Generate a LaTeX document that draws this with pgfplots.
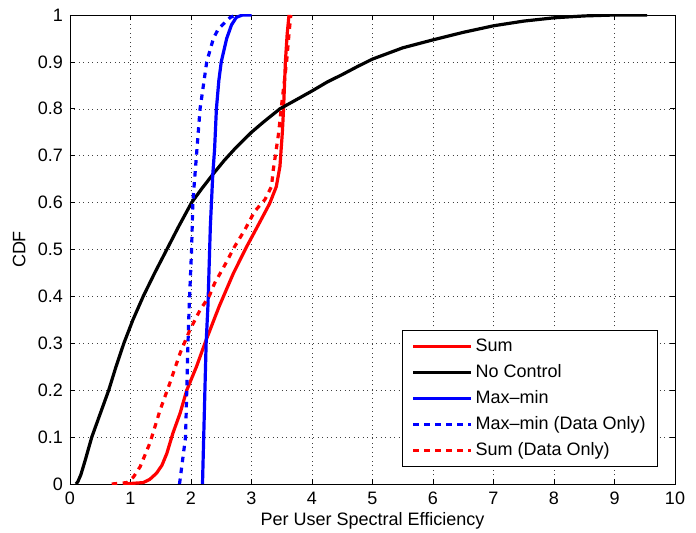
\documentclass[border=0pt]{standalone}
\usepackage{fontspec}
\setmainfont{Liberation Sans}
\usepackage{pgfplots}
\pgfplotsset{compat=1.18}

\begin{document}
\fontsize{18bp}{21bp}\selectfont
\begin{tikzpicture}
\useasboundingbox (-70bp,-49bp) rectangle (626bp,484bp);
\begin{axis}[
  at={(0,0)}, anchor=south west,
  scale only axis, width=605bp, height=469bp,
  xmin=0, xmax=10, ymin=0, ymax=1,
  xtick={0,1,2,3,4,5,6,7,8,9,10},
  ytick={0,0.1,0.2,0.3,0.4,0.5,0.6,0.7,0.8,0.9,1},
  yticklabels={0,0.1,0.2,0.3,0.4,0.5,0.6,0.7,0.8,0.9,1},
  /pgf/number format/assume math mode=true,
  tick align=inside, major tick length=5bp,
  tick style={black, line width=0.6bp},
  axis line style={black, line width=0.8bp},
  grid=major,
  major grid style={black!75, line width=0.5bp, dash pattern=on 1bp off 3.5bp},
  tick label style={font=\fontsize{18bp}{21bp}\selectfont},
  label style={font=\fontsize{18bp}{21bp}\selectfont},
  xticklabel style={yshift=-2bp},
  yticklabel style={xshift=-1bp},
  xlabel={Per User Spectral Efficiency},
  ylabel={CDF},
  xlabel style={yshift=5bp},
  ylabel style={yshift=0bp},
  legend cell align=left,
  legend style={at={(0.972,0.036)}, anchor=south east, draw=black,
    line width=0.8bp, fill=white, font=\fontsize{18bp}{21bp}\selectfont,
    row sep=0bp, column sep=0bp, inner xsep=9bp, inner ysep=3bp,
    nodes={inner xsep=3bp, inner ysep=4.5bp, text height=13bp, text depth=4bp}},
  legend image code/.code={\draw[#1] (0bp,0bp) -- (58bp,0bp);},
]
% Sum
\addplot[red, line width=3.2bp] coordinates {
(0.88,0) (1.21,0.003) (1.32,0.01) (1.43,0.023) (1.52,0.04) (1.60,0.065)
(1.70,0.108) (1.82,0.151) (1.93,0.2) (2.09,0.25) (2.23,0.3) (2.40,0.357)
(2.47,0.38) (2.70,0.449) (2.92,0.506) (3.14,0.559) (3.30,0.598) (3.41,0.634)
(3.47,0.677) (3.51,0.75) (3.53,0.8) (3.56,0.9) (3.59,0.96) (3.62,1.0)
};
\addlegendentry{Sum}
% No Control
\addplot[black, line width=3.2bp] coordinates {
(0.10,0) (0.13,0.005) (0.18,0.02) (0.25,0.05) (0.36,0.1) (0.50,0.15)
(0.64,0.2) (0.76,0.25) (0.89,0.3) (1.04,0.35) (1.21,0.4) (1.40,0.45)
(1.60,0.5) (1.80,0.55) (2.01,0.6) (2.18,0.63) (2.36,0.66) (2.55,0.69)
(2.72,0.714) (3.0,0.75) (3.2,0.772) (3.47,0.8) (3.75,0.82) (4.0,0.838)
(4.25,0.857) (4.5,0.873) (4.75,0.89) (5.0,0.906) (5.5,0.93) (6.0,0.947)
(6.5,0.963) (7.0,0.977) (7.5,0.987) (8.0,0.994) (8.5,0.998) (9.0,1.0) (9.54,1.0)
};
\addlegendentry{No Control}
% Max-min
\addplot[blue, line width=3.2bp] coordinates {
(2.19,0) (2.2,0.05) (2.22,0.15) (2.25,0.3) (2.28,0.38) (2.32,0.55) (2.36,0.66)
(2.39,0.714) (2.42,0.8) (2.46,0.86) (2.50,0.9) (2.59,0.95) (2.67,0.979)
(2.75,0.995) (2.85,1.0) (3.0,1.0)
};
\addlegendentry{Max--min}
% Max-min (Data Only)
\addplot[blue, line width=3.2bp, dash pattern=on 5.5bp off 5.5bp] coordinates {
(1.81,0) (1.84,0.03) (1.88,0.07) (1.91,0.1) (1.93,0.2) (1.95,0.3) (1.97,0.38)
(2.01,0.5) (2.03,0.6) (2.09,0.7) (2.15,0.8) (2.26,0.9) (2.37,0.95) (2.45,0.97)
(2.53,0.98) (2.65,0.995) (2.75,1.0)
};
\addlegendentry{Max--min (Data Only)}
% Sum (Data Only)
\addplot[red, line width=3.2bp, dash pattern=on 5.5bp off 5.5bp] coordinates {
(0.69,0) (0.94,0.003) (1.05,0.015) (1.16,0.037) (1.32,0.087) (1.49,0.158)
(1.65,0.215) (1.82,0.279) (1.98,0.328) (2.15,0.371) (2.30,0.40) (2.39,0.428)
(2.56,0.467) (2.72,0.506) (2.89,0.542) (3.05,0.581) (3.22,0.606) (3.33,0.634)
(3.36,0.67) (3.40,0.705) (3.45,0.75) (3.49,0.8) (3.58,0.9) (3.62,0.96) (3.65,1.0)
};
\addlegendentry{Sum (Data Only)}
\end{axis}
\end{tikzpicture}
\end{document}
